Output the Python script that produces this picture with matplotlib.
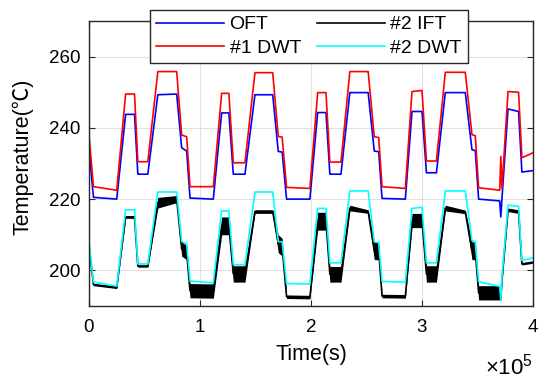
import numpy as np
import matplotlib
matplotlib.use('Agg')
import matplotlib.pyplot as plt

plt.rcParams['font.family'] = ['Liberation Sans', 'DejaVu Sans']
plt.rcParams['mathtext.fontset'] = 'custom'
plt.rcParams['mathtext.rm'] = 'Liberation Sans'

# knot times (x 1e5 s)
t_knots = [0.00, 0.04, 0.25, 0.33, 0.41, 0.44, 0.53, 0.62, 0.79, 0.835,
           0.88, 0.91, 1.12, 1.195, 1.26, 1.30, 1.405, 1.495, 1.655, 1.705,
           1.74, 1.78, 1.99, 2.06, 2.135, 2.17, 2.27, 2.35, 2.515, 2.57,
           2.61, 2.64, 2.85, 2.91, 3.00, 3.04, 3.13, 3.21, 3.39, 3.45,
           3.48, 3.51, 3.70, 3.71, 3.72, 3.775, 3.87, 3.90, 4.00]

oft = [234.0, 220.5, 220.0, 243.8, 243.8, 227.0, 227.0, 249.3, 249.5, 234.4,
       233.5, 220.3, 220.0, 244.2, 244.2, 227.0, 227.0, 249.3, 249.3, 233.4,
       233.2, 220.0, 220.0, 244.3, 244.3, 227.0, 227.0, 249.9, 249.9, 233.5,
       233.3, 220.2, 220.0, 244.6, 244.6, 227.4, 227.4, 249.9, 249.9, 233.9,
       233.6, 220.0, 219.5, 215.0, 220.0, 245.3, 244.6, 227.6, 228.0]

dwt1 = [238.0, 223.5, 222.5, 249.5, 249.5, 230.5, 230.5, 255.8, 255.8, 238.0,
        237.5, 223.5, 223.5, 249.7, 249.7, 230.2, 230.2, 255.5, 255.5, 237.6,
        237.4, 223.3, 223.0, 249.9, 249.9, 230.4, 230.4, 255.8, 255.8, 237.5,
        237.3, 223.5, 223.0, 250.2, 250.5, 230.7, 230.7, 255.6, 255.6, 238.1,
        237.8, 223.2, 222.5, 232.0, 223.0, 250.2, 250.0, 231.6, 233.0]

ift2 = [207.0, 196.0, 195.2, 215.0, 215.0, 201.2, 201.2, 219.0, 220.0, 206.0,
        205.0, 194.3, 194.2, 212.5, 212.5, 199.0, 199.0, 216.5, 216.5, 207.5,
        206.5, 192.6, 192.5, 213.8, 213.8, 198.9, 198.9, 217.5, 216.5, 205.5,
        205.5, 192.8, 192.7, 214.0, 214.0, 199.0, 199.0, 217.5, 216.4, 205.5,
        205.5, 193.7, 193.7, 192.0, 197.0, 217.0, 216.5, 201.8, 202.3]

# half-width of the fluctuation band of #2 IFT
ift2_noise = [0.3, 0.3, 0.3, 0.4, 0.4, 0.3, 0.3, 1.5, 1.0, 2.0,
              2.0, 2.0, 2.0, 2.5, 2.5, 2.3, 2.3, 0.5, 0.5, 2.5,
              2.5, 0.5, 0.5, 2.5, 2.5, 2.2, 2.2, 0.8, 0.5, 2.5,
              2.5, 0.5, 0.5, 2.0, 2.0, 2.3, 2.3, 0.8, 0.5, 2.5,
              2.5, 2.0, 2.0, 0.5, 0.5, 0.5, 0.5, 0.3, 0.3]

dwt2 = [208.0, 196.7, 195.6, 217.0, 217.0, 201.8, 201.8, 222.0, 222.0, 208.1,
        207.5, 197.0, 196.5, 216.7, 216.7, 201.6, 201.6, 222.0, 222.0, 208.1,
        208.0, 196.3, 196.2, 217.4, 217.4, 202.1, 202.1, 222.3, 222.3, 208.0,
        207.8, 196.9, 196.7, 217.4, 217.7, 202.1, 202.1, 222.3, 222.3, 208.4,
        208.0, 196.8, 195.5, 191.6, 198.0, 218.3, 218.0, 202.8, 203.5]

t = np.array(t_knots)
ift2 = np.array(ift2)
noise = np.array(ift2_noise)

fig = plt.figure(figsize=(5.5, 3.81), dpi=100)
ax = fig.add_axes([89 / 550, 1 - 306 / 381, 444 / 550, 285 / 381])

ax.plot(t, oft, color='#0000ff', lw=1.2, label='OFT')
ax.plot(t, dwt1, color='#ff0000', lw=1.2, label='#1 DWT')
ax.fill_between(t, ift2 - noise, ift2 + noise, color='black', lw=0)
ax.plot(t, ift2, color='black', lw=1.2, label='#2 IFT')
ax.plot(t, dwt2, color='#00ffff', lw=1.2, label='#2 DWT')

ax.set_xlim(0, 4)
ax.set_ylim(190, 270)
ax.set_xticks([0, 1, 2, 3, 4])
ax.set_yticks([200, 220, 240, 260])
ax.grid(True, color='#e0e0e0', lw=0.8)
ax.set_axisbelow(True)
ax.tick_params(direction='in', length=4, width=0.8, colors='#262626',
               labelcolor='black', labelsize=13.5, top=True, right=True)
ax.tick_params(axis='x', pad=9)
ax.tick_params(axis='y', pad=6)
for s in ax.spines.values():
    s.set_color('#262626')
    s.set_linewidth(1.0)

ax.set_xlabel('Time(s)', fontsize=15.5, labelpad=6)
ax.set_ylabel('Temperature(℃)', fontsize=15.5,
              family=['Liberation Sans', 'Noto Sans CJK SC', 'DejaVu Sans'])
ax.yaxis.set_label_coords(-0.125, 0.523)
ax.text(1.0, -0.24, r'$\times\mathregular{10^{5}}$', transform=ax.transAxes,
        ha='right', va='baseline', fontsize=16)

leg = ax.legend(ncol=2, loc='upper left', bbox_to_anchor=(0.137, 1.039),
                borderaxespad=0, fontsize=14, handlelength=3.5,
                handletextpad=0.3, columnspacing=0.8, labelspacing=0.3,
                borderpad=0.3, fancybox=False, framealpha=1)
leg.get_frame().set_edgecolor('#262626')
leg.get_frame().set_linewidth(1.0)

fig.savefig('out.png', dpi=100)
